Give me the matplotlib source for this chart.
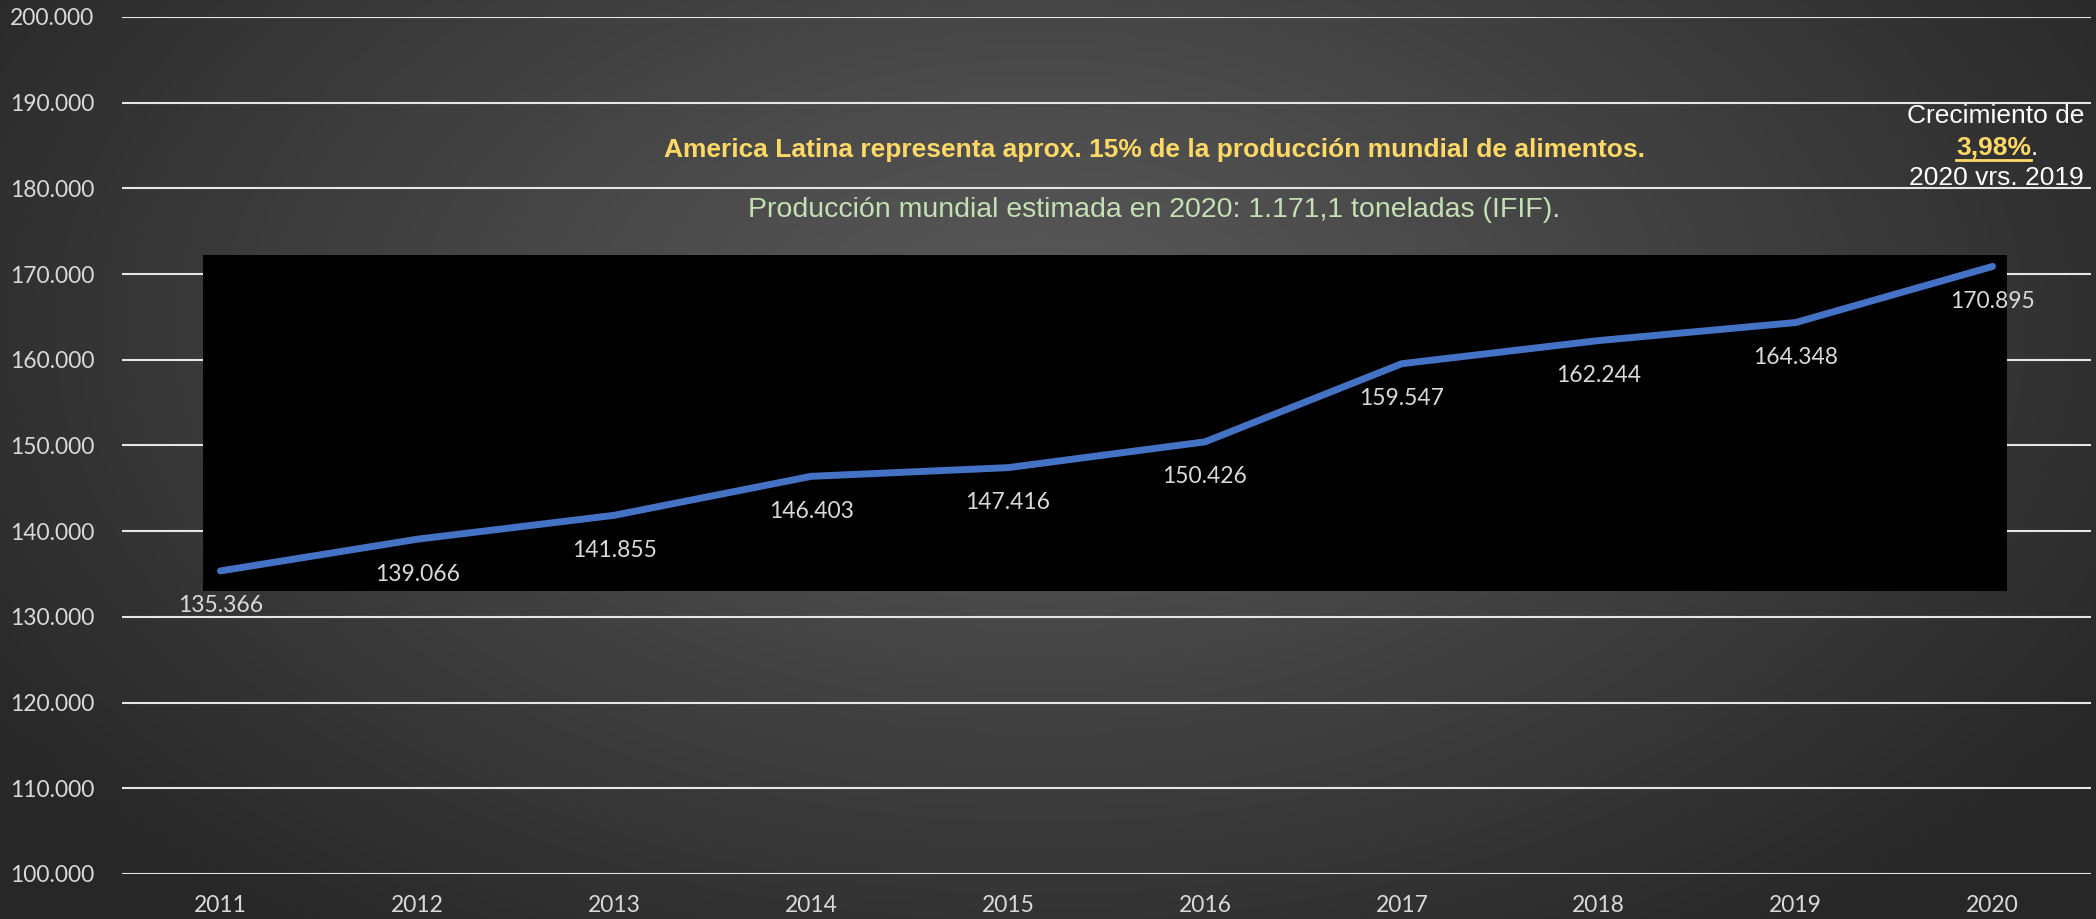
import numpy as np
import matplotlib
matplotlib.use("Agg")
import matplotlib.pyplot as plt
from matplotlib.patches import Rectangle
from matplotlib.lines import Line2D

# data
years = ["2011", "2012", "2013", "2014", "2015", "2016", "2017", "2018", "2019", "2020"]
production = [135366, 139066, 141855, 146403, 147416, 150426, 159547, 162244, 164348, 170895]
yticks = [100000, 110000, 120000, 130000, 140000, 150000, 160000, 170000, 180000, 190000, 200000]

title = "America Latina representa aprox. 15% de la producción mundial de alimentos."
subtitle = "Producción mundial estimada en 2020: 1.171,1 toneladas (IFIF)."
growth = "3,98%"

W, H = 2096, 919
fig = plt.figure(figsize=(W / 100, H / 100), dpi=100)

# radial gray background
bg = fig.add_axes([0, 0, 1, 1], zorder=-10)
yy, xx = np.mgrid[0:H, 0:W]
d = np.sqrt(((xx - 1040) / 1250.0) ** 2 + ((yy - 330) / 750.0) ** 2)
d = np.clip(d, 0, 1)
c = 0.35 - (0.35 - 0.155) * d ** 1.1
bg.imshow(np.dstack([c, c, c]), aspect="auto", extent=[0, 1, 0, 1], origin="upper")
bg.axis("off")

def fx(px):
    return px / W

def fy(py):
    return 1 - py / H

ax = fig.add_axes([fx(122), fy(874), fx(2091) - fx(122), fy(17) - fy(874)])
ax.patch.set_alpha(0)
x = np.arange(len(years))
ax.set_xlim(-0.5, len(years) - 0.5)
ax.set_ylim(yticks[0], yticks[-1])
ax.set_yticks(yticks)
ax.set_yticklabels([f"{v:,}".replace(",", ".") for v in yticks])
ax.set_xticks(x)
ax.set_xticklabels(years)
ax.grid(axis="y", color="#E6E6E6", linewidth=1.5, zorder=1)
ax.set_axisbelow(True)
for s in ax.spines.values():
    s.set_visible(False)
ax.tick_params(axis="both", length=0, colors="#D9D9D9", labelsize=16.5)
ax.tick_params(axis="y", pad=20)
ax.tick_params(axis="x", pad=15)
for lab in ax.get_xticklabels() + ax.get_yticklabels():
    lab.set_family("Lato")

# black panel behind the line
ax.add_patch(Rectangle((fx(203), fy(591)), fx(2007) - fx(203), fy(255) - fy(591),
                       transform=fig.transFigure, facecolor="black", edgecolor="none",
                       zorder=2))

ax.plot(x, production, color="#4472C4", linewidth=5, solid_capstyle="round",
        solid_joinstyle="round", zorder=3)
for xi, v in zip(x, production):
    ax.annotate(f"{v:,}".replace(",", "."), (xi, v), xytext=(0, -35),
                textcoords="offset pixels", ha="center", va="center",
                color="#D9D9D9", fontsize=16.5, family="Lato", zorder=4)

fig.text(fx(1155), fy(150), title, ha="center", va="center", color="#FFD966",
         fontsize=19, fontweight="bold", family="Liberation Sans")
fig.text(fx(1154), fy(210), subtitle, ha="center", va="center", color="#C5E0B4",
         fontsize=20.5, family="Liberation Sans")

# growth note at top right
fig.text(fx(1996), fy(116), "Crecimiento de", ha="center", va="center", color="white",
         fontsize=19, family="Liberation Sans")
t_pct = fig.text(fx(2031), fy(148), growth, ha="right", va="center", color="#FFD966",
                 fontsize=19, fontweight="bold", family="Liberation Sans")
fig.text(fx(2031), fy(148), ".", ha="left", va="center", color="white",
         fontsize=19, family="Liberation Sans")
fig.text(fx(1996), fy(178), "2020 vrs. 2019", ha="center", va="center", color="white",
         fontsize=19, family="Liberation Sans")
fig.canvas.draw()
bb = t_pct.get_window_extent()
fig.add_artist(Line2D([bb.x0 / W, bb.x1 / W], [fy(160), fy(160)], color="#FFD966",
                      linewidth=2, transform=fig.transFigure))

fig.savefig("out.png", dpi=100)
